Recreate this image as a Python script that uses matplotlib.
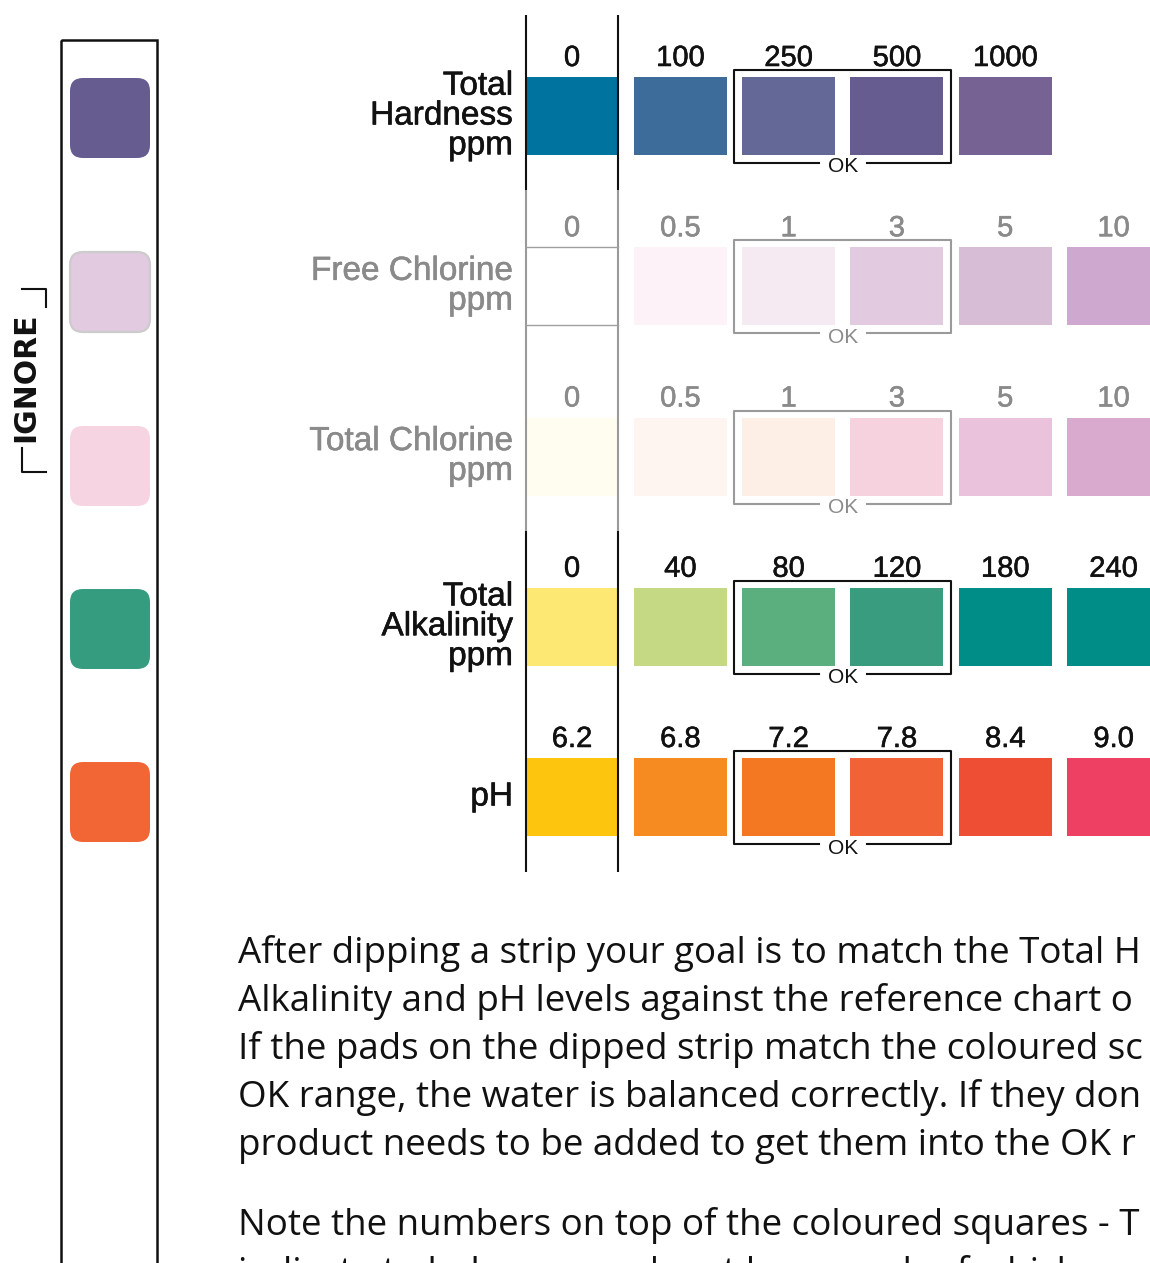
"""Pool test strip reference chart, redrawn with matplotlib."""
import matplotlib

matplotlib.use("Agg")
import matplotlib.pyplot as plt
import matplotlib.patheffects as pe
from matplotlib.patches import Rectangle, FancyBboxPatch

# ---- data -----------------------------------------------------------------
ROW_LABELS = [
    "Total\nHardness\nppm",
    "Free Chlorine\nppm",
    "Total Chlorine\nppm",
    "Total\nAlkalinity\nppm",
    "pH",
]
ROW_VALUES = [
    ["0", "100", "250", "500", "1000"],
    ["0", "0.5", "1", "3", "5", "10"],
    ["0", "0.5", "1", "3", "5", "10"],
    ["0", "40", "80", "120", "180", "240"],
    ["6.2", "6.8", "7.2", "7.8", "8.4", "9.0"],
]
ROW_COLORS = [
    ["#00739f", "#3d6b9a", "#636896", "#675c8f", "#776294"],
    ["#ffffff", "#fdf2f7", "#f5e9f2", "#e2cae0", "#d8bdd6", "#cfa8cf"],
    ["#fffdf0", "#fef5f0", "#fdeee6", "#f6d2df", "#ebc2db", "#daa9ce"],
    ["#fde874", "#c5d985", "#5baf7e", "#3a9c7e", "#008c87", "#008c87"],
    ["#fec50e", "#f68b22", "#f47722", "#f16236", "#ee4e34", "#ee4062"],
]
ROW_MUTED = [False, True, True, False, False]
OK_COLUMNS = (2, 3)

STRIP_COLORS = ["#675c8f", "#e2cae0", "#f7d4e1", "#359c7f", "#f26535"]
STRIP_EDGES = [None, "#cccccc", None, None, None]
IGNORE_LABEL = "IGNORE"

# only the part that is visible in the source, which runs off the page
PARAGRAPH = [
    "After dipping a strip your goal is to match the Total H",
    "Alkalinity and pH levels against the reference chart o",
    "If the pads on the dipped strip match the coloured sc",
    "OK range, the water is balanced correctly. If they don",
    "product needs to be added to get them into the OK r",
    None,
    "Note the numbers on top of the coloured squares - T",
    "indicate to help you work out how much of which",
]

# ---- layout (pixels) ------------------------------------------------------
W, H = 1150, 1263
BLACK = "#111111"
GREY = "#8a8a8a"
SANS = ["Liberation Sans", "DejaVu Sans"]
BODY = ["Open Sans", "DejaVu Sans"]

fig = plt.figure(figsize=(W / 100, H / 100), dpi=100)
ax = fig.add_axes([0, 0, 1, 1])
ax.set_xlim(0, W)
ax.set_ylim(H, 0)
ax.axis("off")

# strip on the left
ax.add_patch(Rectangle((61, 40), 96, H, fill=False, ec=BLACK, lw=1.8))
pad_tops = [78, 252, 426, 589, 762]
for top, col, edge in zip(pad_tops, STRIP_COLORS, STRIP_EDGES):
    ax.add_patch(FancyBboxPatch(
        (70, top), 80, 80, boxstyle="round,pad=0,rounding_size=13",
        fc=col, ec=edge if edge else col, lw=1.6 if edge else 0))

ax.text(26, 377, IGNORE_LABEL, rotation=90, ha="center", va="center",
        fontsize=21.5, fontweight="bold", family="DejaVu Sans", color=BLACK)
ax.plot([22, 46, 46], [289, 289, 307], color=BLACK, lw=1.5)
ax.plot([22, 22, 46], [448, 472, 472], color=BLACK, lw=1.5)

# swatch grid
col_x0 = 572
col_step = 108.3
sw_w, sw_h = 93, 78
row_top0, row_step = 77, 170.25
line_xs = (526, 618)

for r, (label, values, colors) in enumerate(zip(ROW_LABELS, ROW_VALUES, ROW_COLORS)):
    ink = GREY if ROW_MUTED[r] else BLACK
    line_col = "#9a9a9a" if ROW_MUTED[r] else BLACK
    heavier = [pe.withStroke(linewidth=0.4, foreground=ink)]
    top = row_top0 + r * row_step
    cy = top + sw_h / 2

    # vertical separators around the "0" column
    y0 = 15 if r == 0 else top - 57
    y1 = 872 if r == len(ROW_LABELS) - 1 else top + row_step - 57
    for lx in line_xs:
        ax.plot([lx, lx], [y0, y1], color=line_col, lw=1.5, solid_capstyle="butt")

    ax.text(513, cy, label, ha="right", va="center", fontsize=24,
            family=SANS, color=ink, linespacing=0.95, path_effects=heavier)

    for c, (val, col) in enumerate(zip(values, colors)):
        cx = col_x0 + c * col_step
        if c == 0:
            x_left, width = line_xs[0], line_xs[1] - line_xs[0]
        else:
            x_left, width = cx - sw_w / 2, sw_w
        if col.lower() == "#ffffff":
            ax.plot([x_left, x_left + width], [top, top], color="#a0a0a0", lw=1)
            ax.plot([x_left, x_left + width], [top + sw_h, top + sw_h],
                    color="#a0a0a0", lw=1)
        else:
            ax.add_patch(Rectangle((x_left, top), width, sw_h, fc=col, ec="none"))
        ax.text(cx, top - 19, val, ha="center", va="center", fontsize=21,
                family=SANS, color=ink, path_effects=heavier)

    # OK bracket
    bx0 = col_x0 + OK_COLUMNS[0] * col_step - sw_w / 2 - 8
    bx1 = col_x0 + OK_COLUMNS[1] * col_step + sw_w / 2 + 8
    by0, by1 = top - 7, top + sw_h + 8
    mid = (bx0 + bx1) / 2
    ax.plot([mid - 24, bx0, bx0, bx1, bx1, mid + 24],
            [by1, by1, by0, by0, by1, by1], color=line_col, lw=1.5)
    ax.text(mid, by1 + 4, "OK", ha="center", va="center", fontsize=15,
            family=SANS, color=ink)

# explanation text
base = 963
for line in PARAGRAPH:
    if line is None:
        base += 32
        continue
    ax.text(238, base, line, ha="left", va="baseline", fontsize=26.5,
            family=BODY, color=BLACK)
    base += 48

fig.savefig("out.png", dpi=100)
